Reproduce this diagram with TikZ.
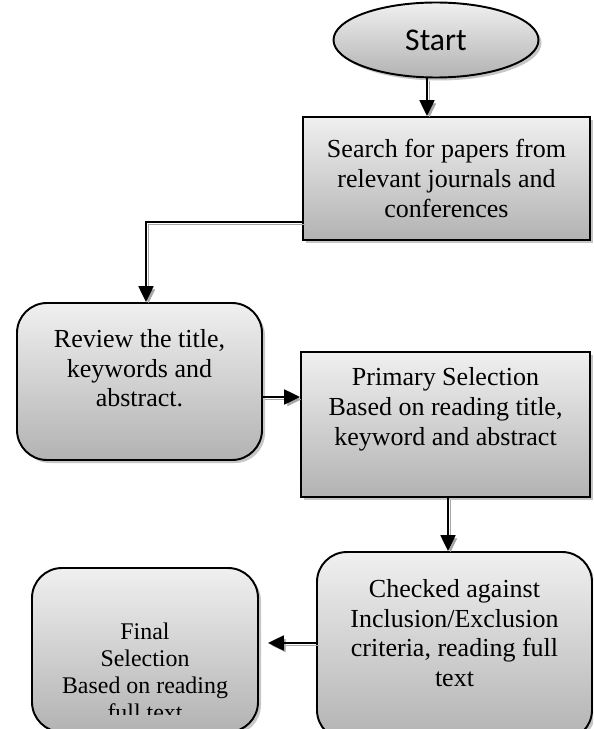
\documentclass[tikz,border=0pt]{standalone}
\usepackage{fontspec}
\setmainfont{Liberation Serif}
\newfontfamily\startfont{Carlito}
\usepackage{tikz}
\usetikzlibrary{shapes.geometric,shadows,arrows.meta}

\begin{document}
\begin{tikzpicture}[
            box/.style={draw, line width=1.1pt, top color=black!6, bottom color=black!30,
                        drop shadow={shadow xshift=0.06cm, shadow yshift=-0.06cm, opacity=0.45},
                        align=center, font=\fontsize{14.8}{17}\selectfont, inner sep=0pt},
            sqbox/.style={box, shape=rectangle},
            rbox/.style={box, shape=rectangle, rounded corners=0.6cm},
            oval/.style={box, shape=ellipse, font=\startfont\fontsize{18}{20}\selectfont},
            txt/.style={align=center, font=\fontsize{13.6}{15.4}\selectfont, inner sep=0pt},
            arr/.style={line width=1.1pt, -{Triangle[length=9pt,width=8.5pt]},
                        preaction={draw=black!35, transform canvas={shift={(0.05cm,-0.05cm)}}}}]
        \clip (0,0) rectangle (11.86,-14.58);

        \node[oval, minimum width=4.1cm, minimum height=1.5cm] (start) at (8.72,-0.80) {Start};
        \node[sqbox, minimum width=5.74cm, minimum height=2.46cm] (search) at (8.93,-3.57)
            {Search for papers from\\relevant journals and\\conferences};
        \node[rbox, minimum width=4.9cm, minimum height=3.14cm, text depth=0.54cm] (review) at (2.79,-7.63)
            {Review the title,\\keywords and\\abstract.};
        \node[sqbox, minimum width=5.78cm, minimum height=2.9cm, text depth=0.73cm] (primary) at (8.91,-8.49)
            {Primary Selection\\Based on reading title,\\keyword and abstract};
        \node[rbox, minimum width=5.5cm, minimum height=3.76cm, text depth=0.52cm] (checked) at (9.09,-12.92)
            {Checked against\\Inclusion/Exclusion\\criteria, reading full\\text};
        \node[rbox, minimum width=4.52cm, minimum height=3.28cm] (final) at (2.9,-13.0) {};

        \begin{scope}
            \clip (0.64,-11.36) rectangle (5.16,-14.28);
            \node[txt] (finaltxt) at (2.9,-13.44) {Final\\Selection\\Based on reading\\full text};
        \end{scope}

        \draw[arr] ([xshift=-0.18cm]start.south) -- ([xshift=-0.18cm]start.south |- search.north);
        \draw[arr] ([yshift=-0.87cm]search.west) -| ([xshift=0.13cm]review.north);
        \draw[arr] ([yshift=-0.31cm]review.east) -- ([yshift=-0.31cm]review.east -| primary.west);
        \draw[arr] ([xshift=0.05cm]primary.south) -- ([xshift=0.05cm]primary.south |- checked.north);
        \draw[arr, shorten >=0.18cm] ([yshift=0.06cm]checked.west) -- ([yshift=0.06cm]checked.west -| final.east);
    \end{tikzpicture}
\end{document}
